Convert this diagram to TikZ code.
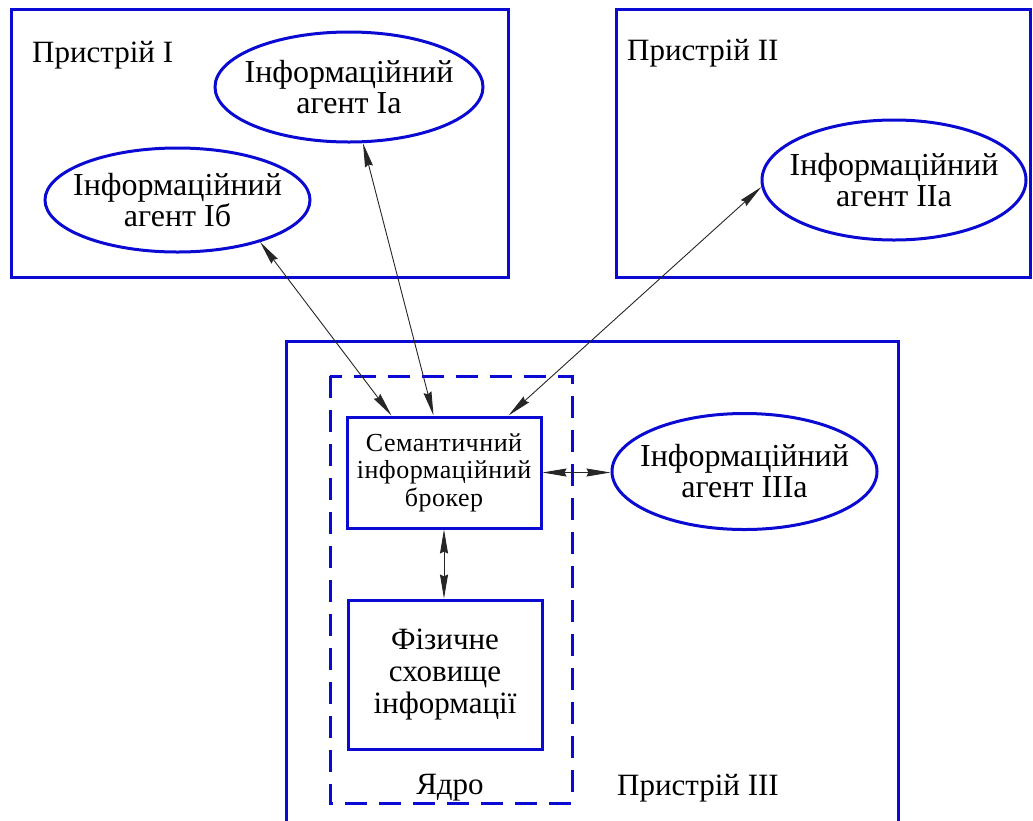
\documentclass[tikz,border=0pt]{standalone}
\usepackage{fontspec}
\setmainfont{Liberation Serif}
\usetikzlibrary{shapes.geometric,arrows.meta,calc}
\definecolor{bl}{RGB}{10,10,210}
\begin{document}
\begin{tikzpicture}[x=1pt,y=-1pt,
  frame/.style={draw=bl,line width=3pt,inner sep=0pt},
  agent/.style={ellipse,draw=bl,line width=3pt,inner sep=0pt},
  atext/.style={align=center,inner sep=0pt,font=\fontsize{32}{31}\selectfont},
  lbl/.style={font=\fontsize{31}{30}\selectfont,inner sep=0pt,anchor=base west},
  tip/.tip={Stealth[length=24pt,width=8pt,inset=2pt]},
  link/.style={draw=black!85,line width=0.9pt,tip-tip}]
\useasboundingbox (0,0) rectangle (1033,820);
% devices
\node[frame,minimum width=497pt,minimum height=268pt] (dev1) at (259.5,143) {};
\node[frame,minimum width=414pt,minimum height=268pt] (dev2) at (823,143) {};
\draw[draw=bl,line width=3pt] (286,823) -- (286,341) -- (898,341) -- (898,823);
% kernel
\draw[draw=bl,line width=3pt,dash pattern=on 22pt off 12pt] (330,376) rectangle (572,803);
% labels
\node[lbl] (l1) at (32,62) {Пристрій I};
\node[lbl] (l2) at (627,60) {Пристрій II};
\node[lbl] (l3) at (617,795) {Пристрій III};
\node[lbl,anchor=base] (l4) at (450,794) {Ядро};
% agents
\node[agent,minimum width=268pt,minimum height=110pt] (ia) at (349,87) {};
\node[atext] (tia) at (ia) {Інформаційний\\агент Ia};
\node[agent,minimum width=265pt,minimum height=104pt] (ib) at (177.5,200) {};
\node[atext] (tib) at (ib) {Інформаційний\\агент Іб};
\node[agent,minimum width=264pt,minimum height=120pt] (iia) at (894,180) {};
\node[atext] (tiia) at (iia) {Інформаційний\\агент IIa};
\node[agent,minimum width=265pt,minimum height=116pt] (iiia) at (744.5,471.5) {};
\node[atext] (tiiia) at (iiia) {Інформаційний\\агент IIIa};
% broker and storage
\node[frame,minimum width=194pt,minimum height=111pt,align=center,
  font=\fontsize{26}{27.5}\selectfont\addfontfeature{LetterSpace=2}] (broker) at (444,472.5)
  {Семантичний\\інформаційний\\брокер};
\node[frame,minimum width=194pt,minimum height=149pt,align=center,
  font=\fontsize{31}{32}\selectfont] (storage) at (445,674.5)
  {Фізичне\\сховище\\інформації};
% connectors
\draw[link] (ib.-27) -- ($(broker.north west)+(46,0)$);
\draw[link] (ia.-76) -- ($(broker.north west)+(88,0)$);
\draw[link] (iia.183) -- ($(broker.north west)+(163,0)$);
\draw[link] (broker.east) -- (broker.east -| iiia.west);
\draw[link] (broker.south) -- (broker.south |- storage.north);
\end{tikzpicture}
\end{document}
